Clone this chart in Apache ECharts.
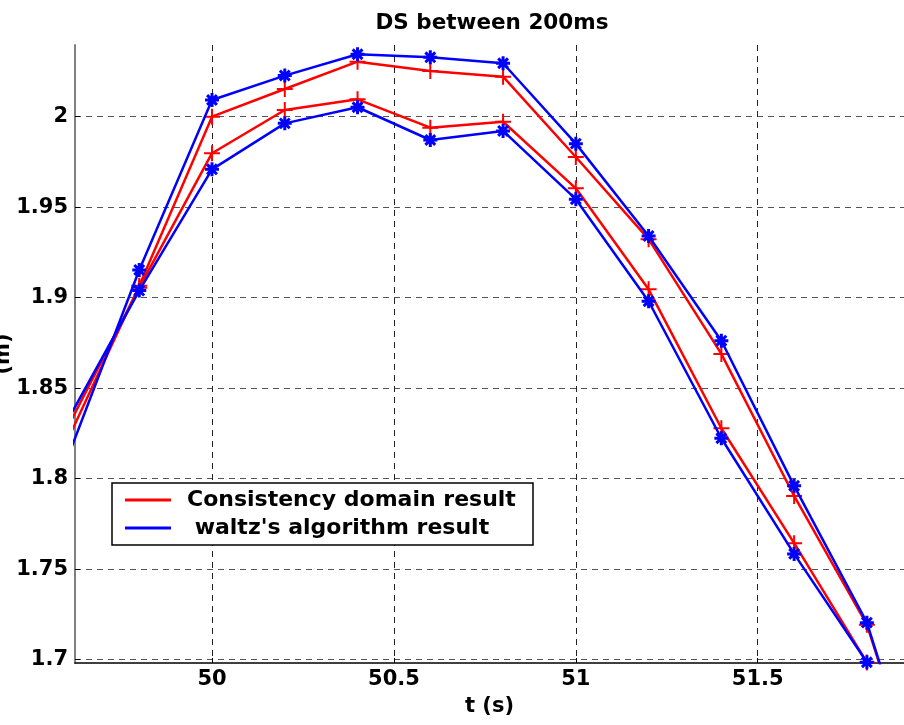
<!DOCTYPE html>
<html>
<head>
<meta charset="utf-8">
<script src="https://cdn.jsdelivr.net/npm/echarts@6/dist/echarts.min.js"></script>
<style>
  html, body { margin: 0; padding: 0; background: #fff; }
  #chart { width: 904px; height: 725px; }
</style>
</head>
<body>
<div id="chart"></div>
<script>
// time axis (s)
var t = [49.6, 49.8, 50.0, 50.2, 50.4, 50.6, 50.8, 51.0, 51.2, 51.4, 51.6, 51.8, 52.0];
// consistency domain result (two bounds)
var redUpper = [1.820, 1.9065, 2.000, 2.0153, 2.0304, 2.0252, 2.0221, 1.9777, 1.9323, 1.8689, 1.7904, 1.7193, 1.593];
var redLower = [1.827, 1.9055, 1.9798, 2.0037, 2.0096, 1.9939, 1.9972, 1.9604, 1.9046, 1.8278, 1.7643, 1.6984, 1.63];
// waltz's algorithm result (two bounds)
var blueUpper = [1.810, 1.9153, 2.0092, 2.0227, 2.0345, 2.0328, 2.0295, 1.9851, 1.9341, 1.8762, 1.7960, 1.7204, 1.593];
var blueLower = [1.831, 1.9039, 1.9709, 1.9963, 2.0052, 1.9871, 1.9921, 1.9544, 1.8980, 1.8223, 1.7584, 1.6985, 1.62];

var xTicks = [50, 50.5, 51, 51.5];
var yTicks = [1.7, 1.75, 1.8, 1.85, 1.9, 1.95, 2.0];

var redName = "Consistency domain result";
var blueName = " waltz's algorithm result";

var FONT = "DejaVu Sans";
var plusIcon = "path://M0,7 H7 V0 H9 V7 H16 V9 H9 V16 H7 V9 H0 Z";
var starIcon = "path://M0,6 L12,6 M6,0 L6,12 M1.8,1.8 L10.2,10.2 M10.2,1.8 L1.8,10.2";

function pairs(ys) {
  return t.map(function (x, i) { return [x, ys[i]]; });
}

function redSeries(ys) {
  return {
    name: redName,
    type: "line",
    data: pairs(ys),
    symbol: plusIcon,
    symbolSize: 16,
    lineStyle: { color: "#ff0000", width: 2.5 },
    itemStyle: { color: "#ff0000" },
    z: 3
  };
}

function blueSeries(ys) {
  return {
    name: blueName,
    type: "line",
    data: pairs(ys),
    symbol: starIcon,
    symbolSize: 14,
    lineStyle: { color: "#0000ff", width: 2.5 },
    itemStyle: { color: "#0000ff", borderColor: "#0000ff", borderWidth: 3 },
    z: 4
  };
}

var chart = echarts.init(document.getElementById("chart"));
chart.setOption({
  animation: false,
  backgroundColor: "#fff",
  title: {
    text: "DS between 200ms",
    left: 487,
    textAlign: "center",
    top: 7,
    textStyle: { fontFamily: FONT, fontWeight: "bold", fontSize: 21.5, color: "#000" }
  },
  legend: {
    orient: "vertical",
    left: 112,
    top: 483,
    data: [redName, blueName],
    icon: "rect",
    itemWidth: 46,
    itemHeight: 3,
    itemGap: 4,
    padding: [5, 10, 5, 13],
    borderColor: "#000",
    borderWidth: 1.5,
    backgroundColor: "#fff",
    itemStyle: { borderWidth: 0 },
    textStyle: {
      fontFamily: FONT, fontWeight: "bold", fontSize: 22, color: "#000",
      lineHeight: 24, width: 336, padding: [0, 0, 0, 11]
    }
  },
  grid: { left: 75, top: 45, right: 0, bottom: 62, outerBoundsMode: "none", containLabel: false },
  xAxis: {
    type: "value",
    min: 49.6234,
    max: 51.902,
    name: "t (s)",
    nameLocation: "middle",
    nameGap: 33,
    nameMoveOverlap: false,
    nameTextStyle: { fontFamily: FONT, fontWeight: "bold", fontSize: 21, color: "#000" },
    axisLine: { show: true, lineStyle: { color: "#000", width: 1.5 } },
    axisTick: { show: true, inside: true, length: 5, customValues: xTicks, lineStyle: { color: "#000" } },
    axisLabel: {
      customValues: xTicks,
      margin: 6,
      fontFamily: FONT, fontWeight: "bold", fontSize: 21, color: "#000"
    },
    splitLine: { show: true, lineStyle: { color: "#222", type: [6, 5], width: 1 } }
  },
  yAxis: {
    type: "value",
    min: 1.6981,
    max: 2.0396,
    name: "(m)",
    nameLocation: "middle",
    nameGap: 61,
    nameMoveOverlap: false,
    nameTextStyle: { fontFamily: FONT, fontWeight: "bold", fontSize: 21, color: "#000" },
    axisLine: { show: true, lineStyle: { color: "#808080", width: 2 } },
    axisTick: { show: true, inside: true, length: 5, customValues: yTicks, lineStyle: { color: "#000" } },
    axisLabel: {
      customValues: yTicks,
      margin: 7,
      fontFamily: FONT, fontWeight: "bold", fontSize: 21, color: "#000",
      formatter: function (v) { return String(Math.round(v * 100) / 100); }
    },
    splitLine: { show: true, lineStyle: { color: "#555", type: [6, 5], width: 1 } }
  },
  series: [
    redSeries(redUpper),
    redSeries(redLower),
    blueSeries(blueUpper),
    blueSeries(blueLower)
  ]
});
</script>
</body>
</html>
